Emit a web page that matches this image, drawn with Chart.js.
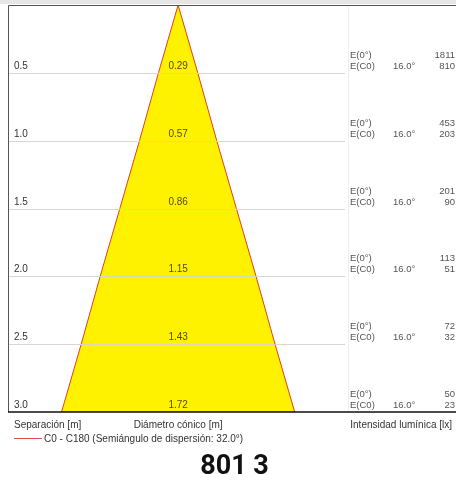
<!DOCTYPE html>
<html lang="es">
<head>
  <meta charset="UTF-8">
  <title>801 3</title>
  <script src="https://cdn.jsdelivr.net/npm/chart.js"></script>
  <style>
    html, body { margin: 0; padding: 0; background: #fff; }
    #wrap { width: 456px; height: 482px; position: relative; }
  </style>
</head>
<body>
  <div id="wrap"><canvas id="cone"></canvas></div>

  <script>
    // datos
    const distances = [0.5, 1.0, 1.5, 2.0, 2.5, 3.0];            // Separación [m]
    const diameters = [0.29, 0.57, 0.86, 1.15, 1.43, 1.72];      // Diámetro cónico [m]
    const eCenter = [1811, 453, 201, 113, 72, 50];               // E(0°) [lx]
    const eEdge = [810, 203, 90, 51, 32, 23];                    // E(C0) [lx]
    const halfAngle = 16.0;
    const title = '801 3';

    // contorno del cono: vertice, lado derecho, lado izquierdo
    const conePts = [{ x: 0, y: 0 }];
    distances.forEach((d, i) => conePts.push({ x: diameters[i] / 2, y: d }));
    for (let i = distances.length - 1; i >= 0; i--) conePts.push({ x: -diameters[i] / 2, y: distances[i] });
    conePts.push({ x: 0, y: 0 });

    const FONT = '"Liberation Sans", Arial, sans-serif';

    const overlay = {
      id: 'overlay',
      beforeDatasetsDraw(chart) {
        const { ctx, chartArea: a } = chart;
        ctx.save();
        ctx.fillStyle = '#e6e6e6';
        ctx.fillRect(0, 0, 456, a.top - 1);
        ctx.restore();
      },
      afterDatasetsDraw(chart) {
        const { ctx, chartArea: a, scales } = chart;
        const xs = scales.x, ys = scales.y;
        ctx.save();

        // lineas horizontales
        ctx.lineWidth = 1;
        distances.slice(0, -1).forEach(d => {
          const y = Math.round(ys.getPixelForValue(d)) + 0.5;
          ctx.strokeStyle = 'rgba(215,210,210,0.9)';
          ctx.beginPath();
          ctx.moveTo(a.left, y);
          ctx.lineTo(345, y);
          ctx.stroke();
        });
        // separador columna derecha
        ctx.strokeStyle = '#f0f0f0';
        ctx.beginPath();
        ctx.moveTo(348.5, a.top);
        ctx.lineTo(348.5, a.bottom);
        ctx.stroke();

        // marco
        ctx.strokeStyle = '#555';
        ctx.beginPath();
        ctx.moveTo(a.left + 0.5, a.bottom);
        ctx.lineTo(a.left + 0.5, a.top + 0.5);
        ctx.lineTo(a.right, a.top + 0.5);
        ctx.stroke();
        ctx.strokeStyle = '#111';
        ctx.lineWidth = 1.5;
        ctx.beginPath();
        ctx.moveTo(a.left, a.bottom);
        ctx.lineTo(a.right, a.bottom);
        ctx.stroke();

        // textos por fila
        ctx.textBaseline = 'alphabetic';
        const cx = xs.getPixelForValue(0);
        distances.forEach((d, i) => {
          const y = ys.getPixelForValue(d) - 4;
          ctx.font = '10px ' + FONT;
          ctx.fillStyle = '#333';
          ctx.textAlign = 'left';
          ctx.fillText(d.toFixed(1), 14, y);
          ctx.fillStyle = '#5a4a10';
          ctx.textAlign = 'center';
          ctx.fillText(diameters[i].toFixed(2), cx, y);
          ctx.font = '9.5px ' + FONT;
          ctx.fillStyle = '#555';
          ctx.textAlign = 'left';
          ctx.fillText('E(0°)', 350, y - 11);
          ctx.fillText('E(C0)', 350, y);
          ctx.fillText(halfAngle.toFixed(1) + '°', 393, y);
          ctx.textAlign = 'right';
          ctx.fillText(String(eCenter[i]), 455, y - 11);
          ctx.fillText(String(eEdge[i]), 455, y);
        });

        // etiquetas inferiores
        ctx.font = '10px ' + FONT;
        ctx.fillStyle = '#333';
        ctx.textAlign = 'left';
        ctx.fillText('Separación [m]', 14, a.bottom + 16);
        ctx.textAlign = 'center';
        ctx.fillText('Diámetro cónico [m]', cx, a.bottom + 16);
        ctx.textAlign = 'right';
        ctx.fillText('Intensidad lumínica [lx]', 452, a.bottom + 16);

        // leyenda
        ctx.strokeStyle = '#e05050';
        ctx.lineWidth = 1;
        ctx.beginPath();
        ctx.moveTo(14, a.bottom + 26.5);
        ctx.lineTo(42, a.bottom + 26.5);
        ctx.stroke();
        ctx.textAlign = 'left';
        ctx.fillText('C0 - C180 (Semiángulo de dispersión: ' + (halfAngle * 2).toFixed(1) + '°)', 44, a.bottom + 30);

        // titulo
        ctx.fillStyle = '#111';
        ctx.font = 'bold 27px Roboto, "Liberation Sans", sans-serif';
        ctx.textAlign = 'center';
        ctx.fillText(title, 234.5, 474);
        ctx.restore();
      }
    };

    new Chart(document.getElementById('cone'), {
      type: 'scatter',
      data: {
        datasets: [{
          label: 'C0 - C180',
          data: conePts,
          showLine: true,
          fill: 'shape',
          backgroundColor: '#fff200',
          borderColor: '#e2401c',
          borderWidth: 1,
          pointRadius: 0,
          tension: 0
        }]
      },
      options: {
        responsive: true,
        maintainAspectRatio: false,
        animation: false,
        layout: { padding: { left: 8, top: 5, right: 0, bottom: 70 } },
        plugins: { legend: { display: false }, tooltip: { enabled: false } },
        scales: {
          x: { type: 'linear', display: false, min: -1.255, max: 2.05 },
          y: { type: 'linear', display: false, reverse: true, min: 0, max: 3 }
        }
      },
      plugins: [overlay]
    });
  </script>
</body>
</html>
